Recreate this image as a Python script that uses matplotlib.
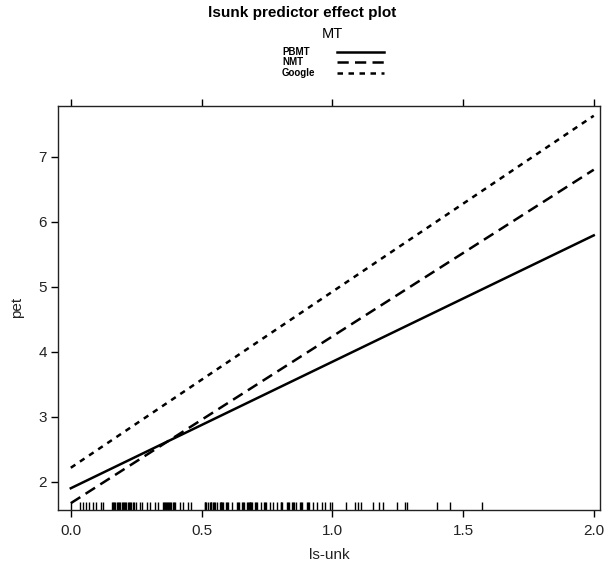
import matplotlib
matplotlib.use("Agg")
import matplotlib.pyplot as plt

# ---- data ----
x_range = [0.0, 2.0]
series_names = ["PBMT", "NMT", "Google"]
pbmt_y = [1.90, 5.79]
nmt_y = [1.67, 6.80]
google_y = [2.215, 7.63]
x_ticks = [0.0, 0.5, 1.0, 1.5, 2.0]
x_tick_labels = ["0.0", "0.5", "1.0", "1.5", "2.0"]
y_ticks = [2, 3, 4, 5, 6, 7]
rug_values = [
    0.0, 0.037, 0.047, 0.060, 0.070, 0.085, 0.098, 0.114, 0.124,
    0.156, 0.160, 0.164, 0.170, 0.175, 0.180, 0.185, 0.190, 0.194, 0.199, 0.203,
    0.208, 0.213, 0.218, 0.222, 0.227, 0.232, 0.237, 0.241, 0.251,
    0.264, 0.274, 0.292, 0.302, 0.321, 0.332,
    0.353, 0.357, 0.361, 0.365, 0.369, 0.373, 0.377, 0.381, 0.385, 0.389, 0.393, 0.397,
    0.417, 0.429, 0.449, 0.461,
    0.512, 0.515, 0.518, 0.523, 0.532, 0.535, 0.538, 0.544, 0.548, 0.553, 0.561,
    0.570, 0.573, 0.576, 0.580, 0.583, 0.592, 0.597, 0.602, 0.617, 0.636, 0.640,
    0.644, 0.655, 0.659, 0.663, 0.674, 0.678, 0.681, 0.684, 0.687, 0.690, 0.693,
    0.706, 0.710, 0.714, 0.727, 0.738, 0.742, 0.746, 0.761, 0.774, 0.787, 0.802,
    0.805, 0.809, 0.827, 0.830, 0.834, 0.846, 0.850, 0.854, 0.863, 0.878, 0.882,
    0.886, 0.904, 0.908, 0.911, 0.927, 0.940, 0.959, 0.971, 0.990,
    1.0, 1.052, 1.086, 1.099, 1.109, 1.156, 1.179, 1.194, 1.249, 1.277, 1.286,
    1.402, 1.452, 1.574,
]

plt.rcParams['font.family'] = ['Liberation Sans', 'DejaVu Sans']

fig = plt.figure(figsize=(6.04, 5.63), dpi=100)
ax = fig.add_axes([0.096, 0.0941, 0.897, 0.7182])

styles = ["-", (0, (4.5, 2.5)), (0, (2.2, 2.2))]
for name, ys, ls in zip(series_names, [pbmt_y, nmt_y, google_y], styles):
    ax.plot(x_range, ys, color="black", linestyle=ls, lw=1.8, label=name)

ax.vlines(rug_values, 0, 0.021, transform=ax.get_xaxis_transform(),
          color="black", lw=1.0)

ax.set_xlim(-0.049, 2.023)
ax.set_ylim(1.565, 7.785)
ax.set_xticks(x_ticks)
ax.set_xticklabels(x_tick_labels)
ax.set_yticks(y_ticks)
ax.tick_params(axis="both", direction="out", length=5, width=1, labelsize=11,
               colors="black", labelcolor="#222222")
ax.tick_params(axis="x", top=True, labeltop=False, pad=5)
ax.tick_params(axis="y", pad=3)
for sp in ax.spines.values():
    sp.set_linewidth(1.0)
    sp.set_color("#222222")

ax.set_xlabel("ls-unk", fontsize=11, labelpad=7, color="#222222")
ax.set_ylabel("pet", fontsize=11, labelpad=10, color="#222222")

fig.text(0.5, 1 - 13 / 563, "lsunk predictor effect plot", ha="center",
         va="center", fontsize=11, fontweight="bold")
fig.text(332 / 604, 1 - 34 / 563, "MT", ha="center", va="center", fontsize=10.5)

leg_rows = [51.7, 62.3, 73.3]
for name, ls, yp in zip(series_names, styles, leg_rows):
    yy = 1 - yp / 563
    fig.text(282 / 604, yy, name, ha="left", va="center", fontsize=7,
             fontweight="bold")
    fig.add_artist(matplotlib.lines.Line2D([337 / 604, 384 / 604], [yy, yy],
                                           color="black", linestyle=ls, lw=1.8,
                                           transform=fig.transFigure))

fig.savefig("out.png", dpi=100)
